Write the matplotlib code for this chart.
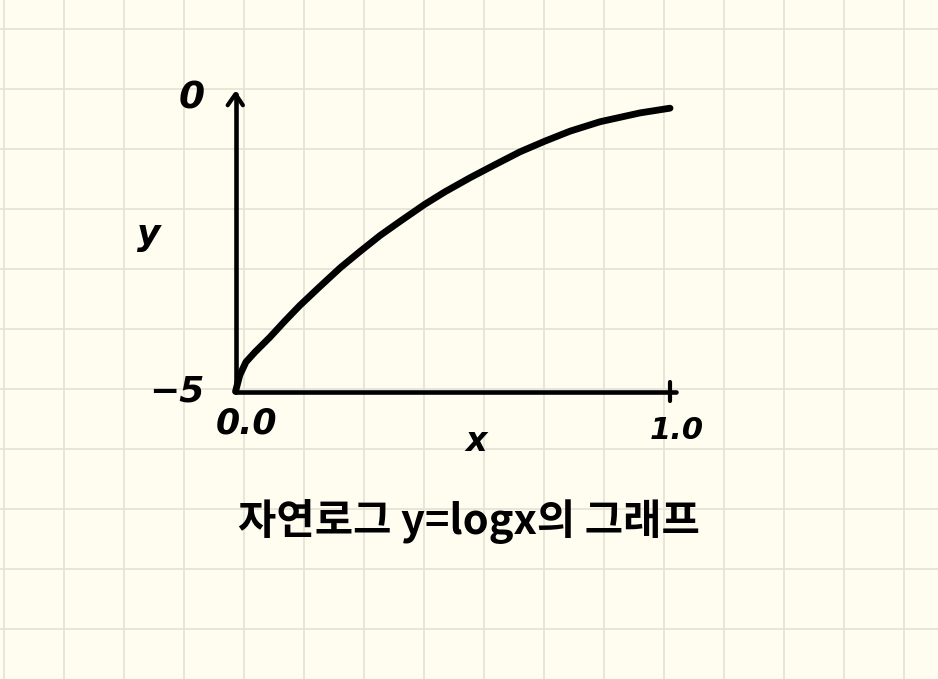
import numpy as np
import matplotlib
matplotlib.use('Agg')
import matplotlib.pyplot as plt

W, H = 938, 679
paper = '#fffdf0'
grid_col = '#e4e2d5'
ink = '#000000'

# curve
curve_x = [0.0, 0.01, 0.024, 0.045, 0.079, 0.114, 0.148, 0.194, 0.241, 0.287, 0.333,
           0.379, 0.436, 0.482, 0.54, 0.597, 0.655, 0.712, 0.77, 0.839, 0.931, 1.0]
curve_y = [-5.0, -4.72, -4.5, -4.33, -4.08, -3.8, -3.54, -3.22, -2.9, -2.62, -2.35,
           -2.11, -1.82, -1.61, -1.37, -1.15, -0.93, -0.75, -0.58, -0.42, -0.27, -0.19]

x_ticks = [0.0, 1.0]
x_tick_labels = ['0.0', '1.0']
y_tick_labels = ['-5', '0']
title = '자연로그 y=logx의 그래프'

plt.rcParams['font.family'] = ['Noto Sans CJK KR', 'DejaVu Sans']

fig = plt.figure(figsize=(W / 100, H / 100), dpi=100, facecolor=paper)

# notebook paper grid
bg = fig.add_axes([0, 0, 1, 1], zorder=0)
bg.set_xlim(0, W)
bg.set_ylim(H, 0)
bg.set_facecolor(paper)
bg.set_xticks(np.arange(3.5, W, 60))
bg.set_yticks(np.arange(28.5, H, 60))
bg.grid(color=grid_col, lw=1.2)
bg.tick_params(length=0, labelbottom=False, labelleft=False)
for s in bg.spines.values():
  s.set_visible(False)

# main axes, 0..1 and -5..0
ax = fig.add_axes([235.5 / W, (H - 391.5) / H, 434.5 / W, 294.5 / H], zorder=1)
ax.patch.set_alpha(0)
ax.set_xlim(0, 1)
ax.set_ylim(-5, 0)
for s in ax.spines.values():
  s.set_visible(False)
ax.set_xticks([])
ax.set_yticks([])

ax.plot(curve_x, curve_y, color=ink, lw=4.9, solid_capstyle='round', solid_joinstyle='round',
        clip_on=False, zorder=3)

# hand drawn axes
ax.plot([0, 1.013], [-5, -5], color=ink, lw=3.3, solid_capstyle='round', clip_on=False)
ax.plot([0, 0], [-5, 0.05], color=ink, lw=3.3, solid_capstyle='round', clip_on=False)
ax.plot([-0.018, 0, 0.017], [-0.14, 0.05, -0.14], color=ink, lw=3, clip_on=False,
        solid_capstyle='round', solid_joinstyle='round')
ax.plot([1, 1], [-5.16, -4.84], color=ink, lw=3, solid_capstyle='round', clip_on=False)

font = dict(family='DejaVu Sans', style='italic', weight='bold', color=ink, ha='center', va='center')
ax.text(0.025, -5.55, x_tick_labels[0], fontsize=25, **font)
ax.text(x_ticks[1] + 0.015, -5.67, x_tick_labels[1], fontsize=22, **font)
ax.text(-0.135, -5.0, '\u2212' + y_tick_labels[0][1:], fontsize=26, **font)
ax.text(-0.1, -0.02, y_tick_labels[1], fontsize=27, **font)
ax.text(-0.2, -2.34, 'y', fontsize=26, **font)
ax.text(0.553, -5.85, 'x', fontsize=24, **font)

fig.text(469 / W, 1 - 521 / H, title, fontsize=30, fontweight='bold', color=ink, ha='center', va='center')

fig.savefig('out.png', dpi=100, facecolor=paper)
